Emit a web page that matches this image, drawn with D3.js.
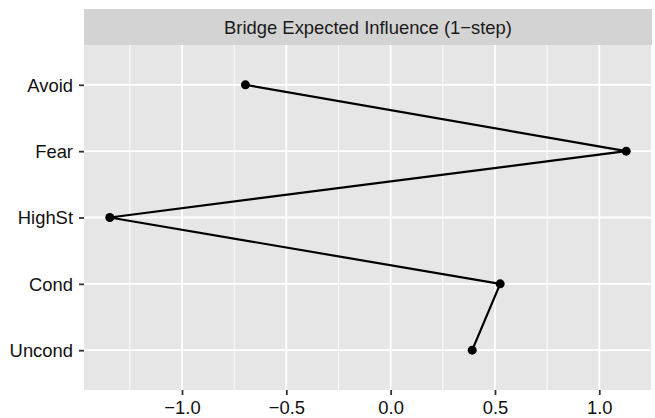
<!DOCTYPE html>
<html>
<head>
<meta charset="utf-8">
<script src="https://cdn.jsdelivr.net/npm/d3@7"></script>
<style>
  body { margin: 0; background: #fff; }
  svg text { font-family: "Liberation Sans", Arial, Helvetica, sans-serif; }
</style>
</head>
<body>
<svg id="chart"></svg>
<script>
const width = 655, height = 418;

// data
const nodes = ["Avoid", "Fear", "HighSt", "Cond", "Uncond"];
const values = [-0.696, 1.129, -1.346, 0.525, 0.391];
const xTicks = [-1.0, -0.5, 0.0, 0.5, 1.0];
const xMinor = [-1.25, -0.75, -0.25, 0.25, 0.75, 1.25];
const title = "Bridge Expected Influence (1\u2212step)";

const panel = { left: 84, right: 652, top: 45, bottom: 390 };
const stripTop = 9;
const fontSize = 18.4;

const svg = d3.select("#chart")
    .attr("width", width)
    .attr("height", height);

// x scale with ggplot-like 5% expansion
const lo = d3.min(values), hi = d3.max(values);
const pad = (hi - lo) * 0.05;
const x = d3.scaleLinear()
    .domain([lo - pad, hi + pad])
    .range([panel.left, panel.right]);

// discrete y with 0.6 expansion
const y = d3.scalePoint()
    .domain(nodes)
    .range([panel.top, panel.bottom])
    .padding(0.6);

// strip
svg.append("rect")
    .attr("x", panel.left).attr("y", stripTop)
    .attr("width", panel.right - panel.left)
    .attr("height", panel.top - stripTop)
    .attr("fill", "#d3d3d3");

svg.append("text")
    .attr("x", (panel.left + panel.right) / 2)
    .attr("y", (stripTop + panel.top) / 2 + 6.5)
    .attr("text-anchor", "middle")
    .attr("font-size", fontSize)
    .attr("fill", "#1a1a1a")
    .text(title);

// panel background
svg.append("rect")
    .attr("x", panel.left).attr("y", panel.top)
    .attr("width", panel.right - panel.left)
    .attr("height", panel.bottom - panel.top)
    .attr("fill", "#e6e6e6");

const grid = svg.append("g");

grid.selectAll(".minor")
    .data(xMinor.filter(d => x(d) <= panel.right))
    .join("line")
    .attr("x1", d => x(d)).attr("x2", d => x(d))
    .attr("y1", panel.top).attr("y2", panel.bottom)
    .attr("stroke", "#fff").attr("stroke-width", 0.9);

grid.selectAll(".majorx")
    .data(xTicks)
    .join("line")
    .attr("x1", d => x(d)).attr("x2", d => x(d))
    .attr("y1", panel.top).attr("y2", panel.bottom)
    .attr("stroke", "#fff").attr("stroke-width", 1.8);

grid.selectAll(".majory")
    .data(nodes)
    .join("line")
    .attr("x1", panel.left).attr("x2", panel.right)
    .attr("y1", d => y(d)).attr("y2", d => y(d))
    .attr("stroke", "#fff").attr("stroke-width", 1.8);

// axes
const xAxis = svg.append("g")
    .attr("transform", `translate(0,${panel.bottom})`)
    .call(d3.axisBottom(x).tickValues(xTicks).tickSize(5).tickPadding(4)
        .tickFormat(d => d3.format(".1f")(d).replace("-", "\u2212")));

const yAxis = svg.append("g")
    .attr("transform", `translate(${panel.left},0)`)
    .call(d3.axisLeft(y).tickSize(5).tickPadding(6));

[xAxis, yAxis].forEach(g => {
    g.select(".domain").remove();
    g.selectAll(".tick line").attr("stroke", "#333").attr("stroke-width", 1.8);
    g.selectAll(".tick text")
        .attr("font-size", fontSize)
        .attr("fill", "#111");
});
yAxis.selectAll(".tick text").attr("dy", "0.35em");
xAxis.selectAll(".tick text").attr("dy", "0.8em");

// line + points
const data = nodes.map((n, i) => ({ node: n, value: values[i] }));

svg.append("path")
    .datum(data)
    .attr("fill", "none")
    .attr("stroke", "#000")
    .attr("stroke-width", 2.2)
    .attr("d", d3.line().x(d => x(d.value)).y(d => y(d.node)));

svg.selectAll(".pt")
    .data(data)
    .join("circle")
    .attr("cx", d => x(d.value))
    .attr("cy", d => y(d.node))
    .attr("r", 4.5)
    .attr("fill", "#000");
</script>
</body>
</html>
